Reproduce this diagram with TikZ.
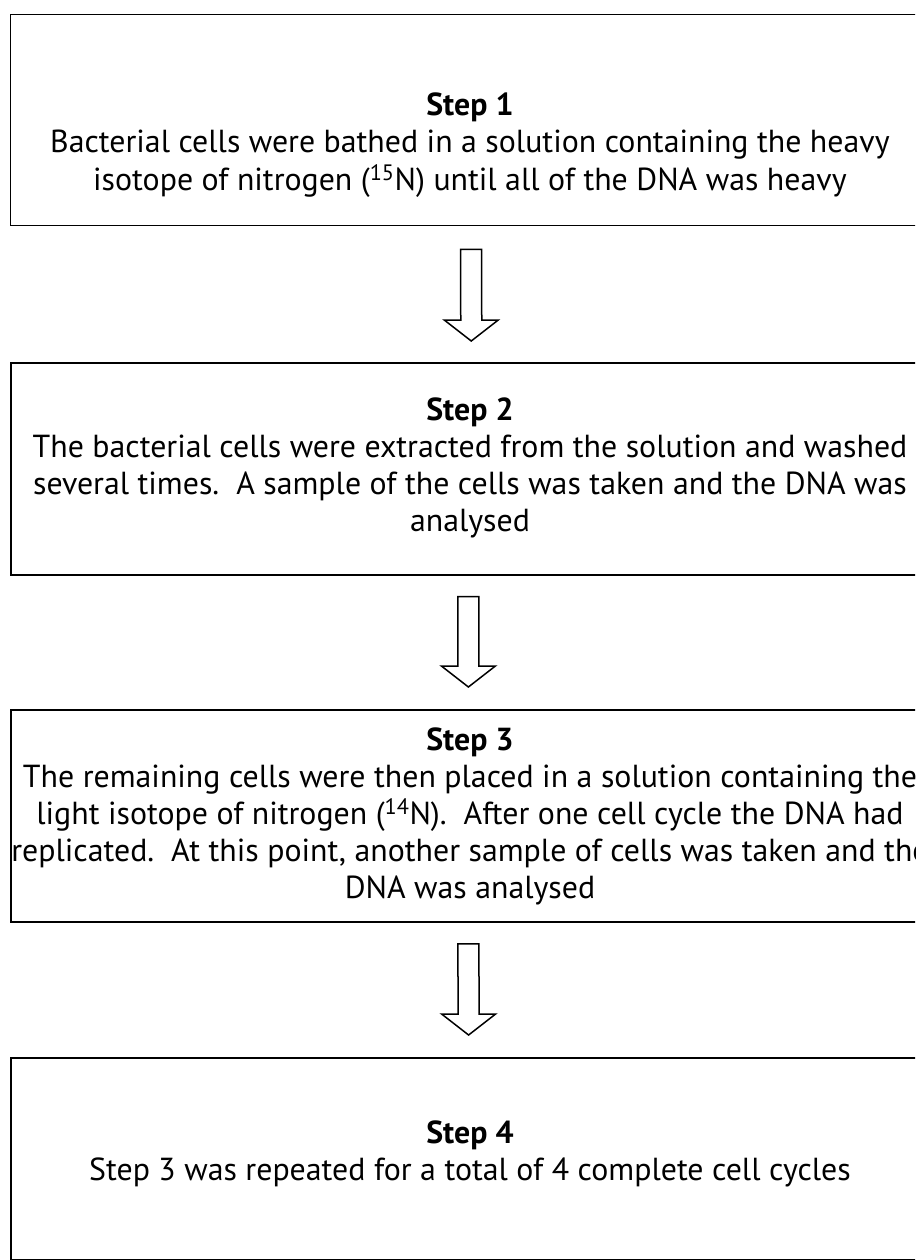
\documentclass[tikz,border=0pt]{standalone}
\usepackage{fontspec}
\setmainfont{PT Sans}
\usetikzlibrary{calc}
\newlength\reflinew
\newcommand\blockarrow[2]{%
  \draw[barrow] ($(#1)+(-10.5,0)$) -- ($(#1)+(10.5,0)$) -- ($(#2)+(10.5,-21)$)
    -- ($(#2)+(27,-21)$) -- (#2) -- ($(#2)+(-27,-21)$) -- ($(#2)+(-10.5,-21)$) -- cycle;}
\begin{document}
\settowidth\reflinew{\fontsize{10pt}{12pt}\selectfont The remaining cells were then placed in a solution containing the}%
\pgfmathsetmacro\fsz{10*894/\reflinew}%
\begin{tikzpicture}[x=1pt,y=-1pt]
\tikzset{
  box/.style={draw=black, minimum width=920pt, anchor=north west, inner sep=0pt},
  txt/.style={font=\fontsize{\fsz pt}{37pt}\selectfont, anchor=base, inner sep=0pt},
  head/.style={txt, font=\fontsize{\fsz pt}{37pt}\selectfont\bfseries},
  barrow/.style={draw=black, line width=1.5pt, fill=white, line join=miter}
}
\useasboundingbox (0,0) rectangle (915,1260);
\clip (0,0) rectangle (915,1260);
\fill[white] (0,0) rectangle (915,1260);
% boxes
\node[box, line width=1.3pt, minimum height=211pt] (s1) at (10,14) {};
\node[box, line width=1.5pt, minimum height=212pt] (s2) at (10,362) {};
\node[box, line width=1.8pt, minimum height=212pt] (s3) at (10,709) {};
\node[box, line width=2.2pt, minimum height=202pt] (s4) at (10,1057) {};
% texts
\node[head] (t1a) at (470,116) {Step 1};
\node[txt] (t1b) at (470,153) {Bacterial cells were bathed in a solution containing the heavy};
\node[txt] (t1c) at (470,190) {isotope of nitrogen (\textsuperscript{15}N) until all of the DNA was heavy};
\node[head] (t2a) at (470,420) {Step 2};
\node[txt] (t2b) at (470,457) {The bacterial cells were extracted from the solution and washed};
\node[txt] (t2c) at (470,494) {several times.\ \ A sample of the cells was taken and the DNA was};
\node[txt] (t2d) at (470,531) {analysed};
\node[head] (t3a) at (470,750) {Step 3};
\node[txt] (t3b) at (470,787) {The remaining cells were then placed in a solution containing the};
\node[txt] (t3c) at (470,824) {light isotope of nitrogen (\textsuperscript{14}N).\ \ After one cell cycle the DNA had};
\node[txt] (t3d) at (470,861) {replicated.\ \ At this point, another sample of cells was taken and the};
\node[txt] (t3e) at (470,898) {DNA was analysed};
\node[head] (t4a) at (470,1143) {Step 4};
\node[txt] (t4b) at (470,1180) {Step 3 was repeated for a total of 4 complete cell cycles};
% arrows
\coordinate (a1s) at ($(s1.south)+(0.5,23)$);
\coordinate (a1e) at ($(s2.north)+(0.5,-21)$);
\coordinate (a2s) at ($(s2.south)+(-2.5,21)$);
\coordinate (a2e) at ($(s3.north)+(-2.5,-22)$);
\coordinate (a3s) at ($(s3.south)+(-2.5,21)$);
\coordinate (a3e) at ($(s4.north)+(-2.5,-22)$);
\blockarrow{a1s}{a1e}
\blockarrow{a2s}{a2e}
\blockarrow{a3s}{a3e}
\end{tikzpicture}
\end{document}
